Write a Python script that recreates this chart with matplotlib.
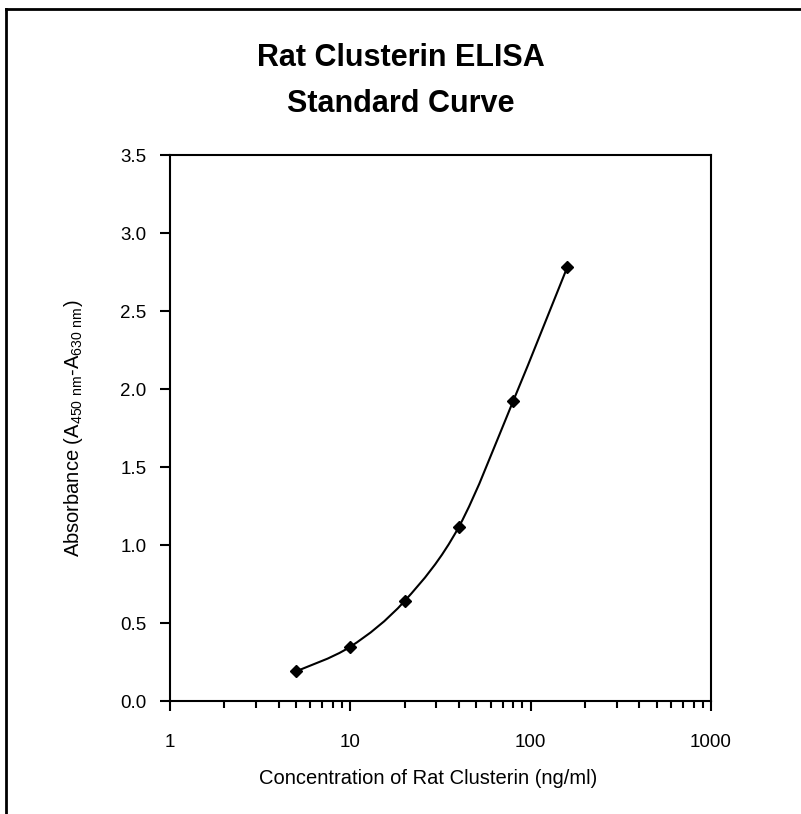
"""Rat Clusterin ELISA standard curve"""

import matplotlib
matplotlib.use("Agg")
import matplotlib.pyplot as plt
import numpy as np
from matplotlib import font_manager
from matplotlib.path import Path
from matplotlib.patches import PathPatch
from matplotlib.lines import Line2D
from matplotlib.ticker import FixedLocator, NullFormatter

conc = [5, 10, 20, 40, 80, 160]
absorbance = [0.19, 0.348, 0.641, 1.117, 1.923, 2.784]
x_ticks = [1, 10, 100, 1000]
x_tick_labels = ["1", "10", "100", "1000"]
y_ticks = [0.0, 0.5, 1.0, 1.5, 2.0, 2.5, 3.0, 3.5]

# narrow Arial-like font if we have it
names = {f.name for f in font_manager.fontManager.ttflist}
font = "Liberation Sans Narrow" if "Liberation Sans Narrow" in names else "Liberation Sans"
plt.rcParams["font.family"] = [font, "DejaVu Sans"]
plt.rcParams["mathtext.fontset"] = "custom"
plt.rcParams["mathtext.rm"] = font


def smooth_path(xs, ys, t=1 / 6):
    """Catmull-Rom style bezier through the points (log x)"""
    lx = np.log10(xs)
    ys = np.asarray(ys)
    verts = [(xs[0], ys[0])]
    codes = [Path.MOVETO]
    n = len(lx)
    for i in range(n - 1):
        p0 = (lx[max(i - 1, 0)], ys[max(i - 1, 0)])
        p1 = (lx[i], ys[i])
        p2 = (lx[i + 1], ys[i + 1])
        p3 = (lx[min(i + 2, n - 1)], ys[min(i + 2, n - 1)])
        c1 = (p1[0] + (p2[0] - p0[0]) * t, p1[1] + (p2[1] - p0[1]) * t)
        c2 = (p2[0] - (p3[0] - p1[0]) * t, p2[1] - (p3[1] - p1[1]) * t)
        for c in (c1, c2, p2):
            verts.append((10 ** c[0], c[1]))
        codes += [Path.CURVE4] * 3
    return Path(verts, codes)


fig = plt.figure(figsize=(8.01, 8.14), dpi=100)
ax = fig.add_axes([170 / 801, 1 - 701 / 814, 541 / 801, 546 / 814])

ax.set_xscale("log")
ax.set_xlim(1, 1000)
ax.set_ylim(0, 3.5)

ax.add_patch(PathPatch(smooth_path(conc, absorbance), fill=False, color="black", lw=1.5))
ax.plot(conc, absorbance, linestyle="none", marker="D", markersize=6.5, color="black")

ax.xaxis.set_major_locator(FixedLocator(x_ticks))
ax.set_xticklabels(x_tick_labels)
minors = [m * 10 ** e for e in range(3) for m in range(2, 10)]
ax.xaxis.set_minor_locator(FixedLocator(minors))
ax.xaxis.set_minor_formatter(NullFormatter())
ax.set_yticks(y_ticks)
ax.set_yticklabels([f"{v:.1f}" for v in y_ticks])

ax.tick_params(axis="both", which="major", direction="out", length=7, width=1.5,
               labelsize=13.5, pad=10, top=False, right=False)
ax.tick_params(axis="x", which="major", pad=17)
ax.tick_params(axis="x", which="minor", direction="out", length=5, width=1.5, top=False)
for s in ax.spines.values():
    s.set_linewidth(1.5)

ax.set_xlabel("Concentration of Rat Clusterin (ng/ml)", fontsize=14.5)
ax.xaxis.set_label_coords(0.478, -0.125)
ax.set_ylabel(r"Absorbance (A$\mathregular{_{450\ nm}}$-A$\mathregular{_{630\ nm}}$)", fontsize=14.5)
ax.yaxis.set_label_coords(-0.157, 0.5)

fig.text(0.5, 1 - 81 / 814, "Rat Clusterin ELISA\nStandard Curve", ha="center", va="center",
         fontsize=22, fontweight="bold", linespacing=1.7)

# outer frame (only top and left edges fall inside the image)
fig.add_artist(Line2D([6 / 801, 1.0], [1 - 9 / 814, 1 - 9 / 814], color="black", lw=2,
                      transform=fig.transFigure))
fig.add_artist(Line2D([6 / 801, 6 / 801], [1 - 9 / 814, 0.0], color="black", lw=2,
                      transform=fig.transFigure))

fig.savefig("out.png", dpi=100)
